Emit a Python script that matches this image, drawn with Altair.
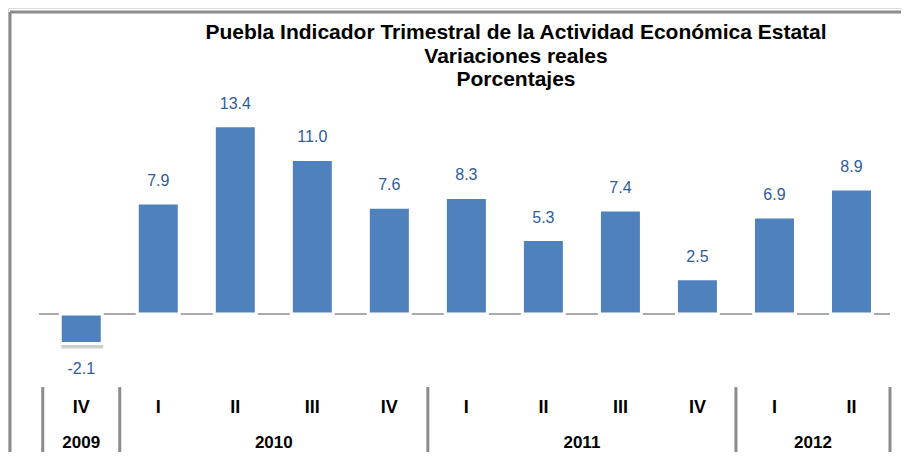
import altair as alt
import pandas as pd

# ---- data ----
quarters = ["IV", "I", "II", "III", "IV", "I", "II", "III", "IV", "I", "II"]
values = [-2.1, 7.9, 13.4, 11.0, 7.6, 8.3, 5.3, 7.4, 2.5, 6.9, 8.9]
years = ["2009", "2010", "2011", "2012"]
quarters_per_year = [1, 4, 4, 2]
title_lines = [
    "Puebla Indicador Trimestral de la Actividad Económica Estatal",
    "Variaciones reales",
    "Porcentajes",
]

# ---- tables built from the arrays ----
idx = list(range(len(values)))
df = pd.DataFrame({
    "idx": idx,
    "q": quarters,
    "v": values,
    "zero": [0.0] * len(values),
    "label": [f"{v:.1f}" for v in values],
})

bounds = [-0.5]
centers = []
start = 0
for n in quarters_per_year:
    centers.append(start + (n - 1) / 2)
    start += n
    bounds.append(start - 0.5)
years_df = pd.DataFrame({"year": years, "c": centers})
sep_df = pd.DataFrame({"b": bounds})
zero_df = pd.DataFrame({"a": [bounds[0] - 0.05], "b": [bounds[-1]], "y": [0.0]})

W, H = 893, 444
xs = alt.Scale(domain=[-0.886, 10.578], nice=False, zero=False)
ys = alt.Scale(domain=[-9.822, 21.779], nice=False, zero=False)

FONT = "Liberation Sans"
GRAY = "#8c8c8c"
LABEL = "#2E5C9A"

base = alt.Chart(df)
X = alt.X("idx:Q", scale=xs, axis=None)
Y = alt.Y("v:Q", scale=ys, axis=None)

shadow = base.mark_bar(size=42, color="#cfcfcf", xOffset=1, yOffset=5).encode(
    x=X, y=Y, y2="zero:Q")
bars = base.mark_bar(size=42, color="#4F81BD", stroke="white", strokeWidth=3).encode(
    x=X, y=Y, y2="zero:Q")

lab_pos = base.transform_filter("datum.v >= 0").mark_text(
    font=FONT, fontSize=16, color=LABEL, baseline="middle", dy=-22).encode(
    x=X, y=Y, text="label:N")
lab_neg = base.transform_filter("datum.v < 0").mark_text(
    font=FONT, fontSize=16, color=LABEL, baseline="middle", dy=25).encode(
    x=X, y=Y, text="label:N")

zero_line = alt.Chart(zero_df).mark_rule(color=GRAY, strokeWidth=1.5).encode(
    x=alt.X("a:Q", scale=xs, axis=None), x2="b:Q",
    y=alt.Y("y:Q", scale=ys, axis=None))

seps = alt.Chart(sep_df).transform_calculate(top="-5.2", bot="-9.822").mark_rule(
    color=GRAY, strokeWidth=3).encode(
    x=alt.X("b:Q", scale=xs, axis=None),
    y=alt.Y("top:Q", scale=ys, axis=None), y2="bot:Q")

q_labels = base.transform_calculate(ly="-6.69").mark_text(
    font=FONT, fontSize=18, fontWeight="bold", color="black", baseline="middle").encode(
    x=X, y=alt.Y("ly:Q", scale=ys, axis=None), text="q:N")

y_labels = alt.Chart(years_df).transform_calculate(ly="-9.18").mark_text(
    font=FONT, fontSize=17, fontWeight="bold", color="black", baseline="middle").encode(
    x=alt.X("c:Q", scale=xs, axis=None), y=alt.Y("ly:Q", scale=ys, axis=None), text="year:N")

frame_left = alt.Chart(zero_df).mark_rule(color=GRAY, strokeWidth=3).encode(
    x=alt.value(2), y=alt.value(4), y2=alt.value(H))
frame_top = alt.Chart(zero_df).mark_rule(color=GRAY, strokeWidth=3).encode(
    x=alt.value(2), x2=alt.value(W), y=alt.value(4))

title_layers = []
for line, ty in zip(title_lines, [25, 49, 72]):
    title_layers.append(
        alt.Chart(zero_df).mark_text(
            font=FONT, fontSize=21, fontWeight="bold", color="black", baseline="middle",
            align="center").encode(
            x=alt.value(508), y=alt.value(ty), text=alt.value(line)))

chart = alt.layer(
    frame_left, frame_top, zero_line, seps, shadow, bars, lab_pos, lab_neg,
    q_labels, y_labels, *title_layers
).properties(
    width=W, height=H, padding=0,
    autosize=alt.AutoSizeParams(type="none"),
).configure_view(stroke=None).configure(background="white")

chart.save("out.html", embed_options={"renderer": "svg", "actions": False})
